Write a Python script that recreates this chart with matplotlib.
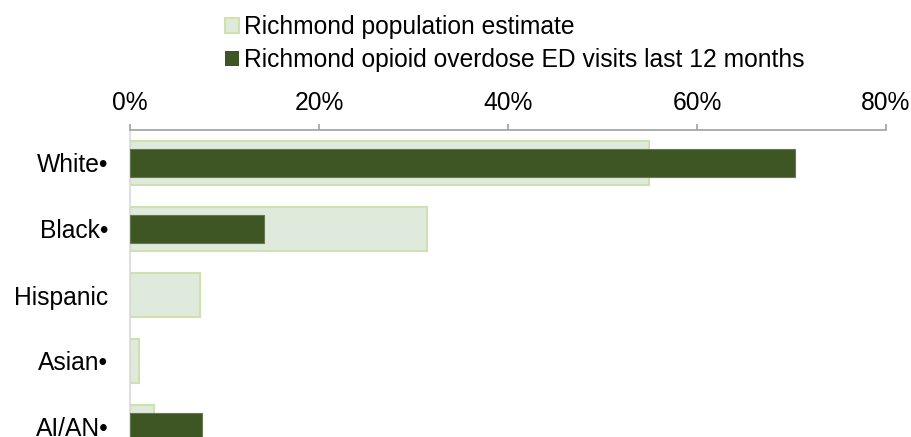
import matplotlib
matplotlib.use("Agg")
import matplotlib.pyplot as plt
from matplotlib.patches import Patch
from matplotlib.ticker import FuncFormatter

plt.rcParams['font.family'] = ['Liberation Sans', 'DejaVu Sans']

categories = ["White•", "Black•", "Hispanic", "Asian•", "AI/AN•"]
population = [54.9, 31.4, 7.4, 1.0, 2.5]
ed_visits = [70.4, 14.2, 0.0, 0.0, 7.6]
series_names = ["Richmond population estimate",
                "Richmond opioid overdose ED visits last 12 months"]
xticks = [0, 20, 40, 60, 80]

light_fill = "#DFEADD"
light_edge = "#CFE1AC"
dark_fill = "#3E5623"
dark_edge = "#65784F"
FS = 17.7

fig = plt.figure(figsize=(9.11, 4.37), dpi=100)
ax = fig.add_axes([130/911, 1 - 460/437, (886-130)/911, 330/437])

y = list(range(len(categories)))
ax.barh(y, population, height=0.667, color=light_fill, edgecolor=light_edge,
        linewidth=1.5, zorder=2)
ax.barh(y, ed_visits, height=0.41, color=dark_fill, edgecolor=dark_edge,
        linewidth=[0.8 if v > 0 else 0 for v in ed_visits], zorder=3)

ax.set_xlim(0, 80)
ax.set_ylim(len(categories) - 0.5, -0.5)
ax.set_yticks(y)
ax.set_yticklabels(categories, fontsize=FS)
ax.set_xticks(xticks)
ax.xaxis.set_major_formatter(FuncFormatter(lambda v, p: f"{v:.0f}%"))
ax.xaxis.tick_top()
ax.tick_params(axis='x', direction='out', length=4.3, width=1.2, color='#A0A0A0',
               labelsize=FS, pad=6.5)
ax.tick_params(axis='y', length=0, pad=15.5)

for s in ['right', 'bottom']:
    ax.spines[s].set_visible(False)
ax.spines['top'].set_color('#A0A0A0')
ax.spines['top'].set_linewidth(1.2)
ax.spines['left'].set_color('#D9D9D9')
ax.spines['left'].set_linewidth(1.2)

handles = [Patch(facecolor=light_fill, edgecolor=light_edge, linewidth=1.5),
           Patch(facecolor=dark_fill, edgecolor='none')]
fig.legend(handles, series_names, loc='upper left',
           bbox_to_anchor=(213/911, 1 - 3/437), frameon=False, fontsize=FS,
           handlelength=0.55, handleheight=0.55, handletextpad=0.2,
           labelspacing=0.35, borderaxespad=0.1)

fig.savefig("out.png", dpi=100)
